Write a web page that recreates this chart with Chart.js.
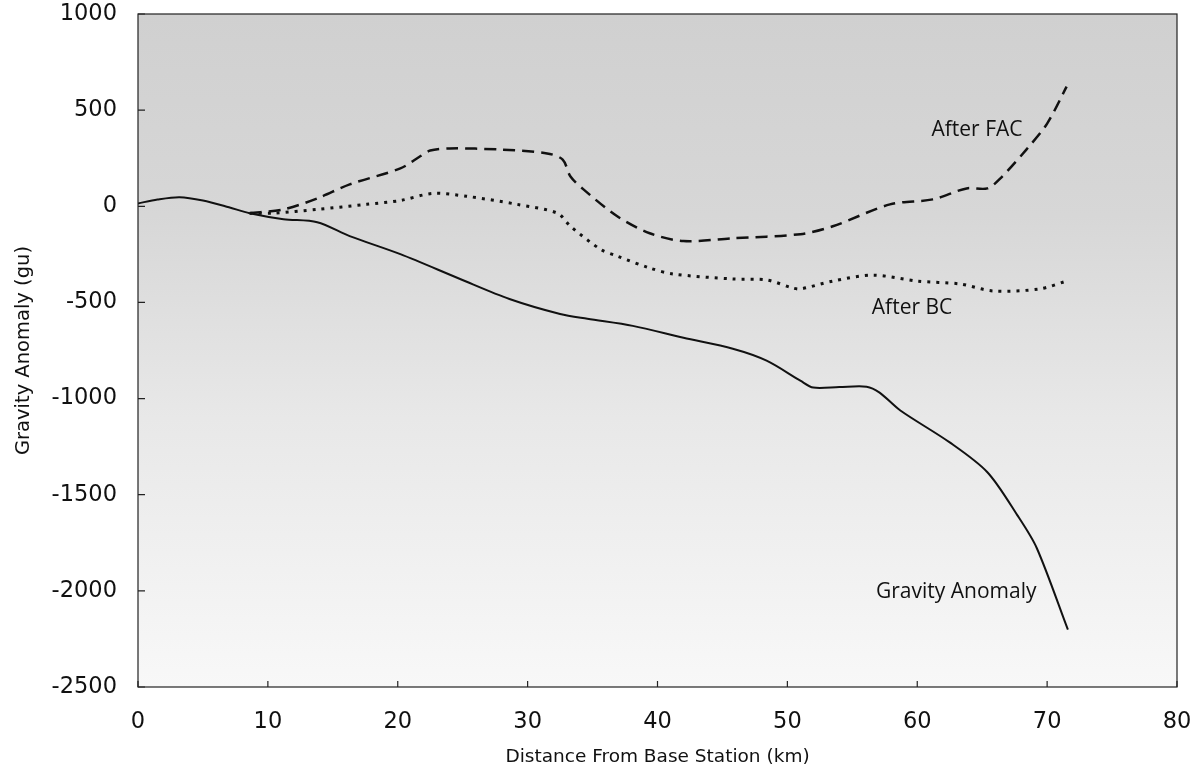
<!DOCTYPE html>
<html>
<head>
<meta charset="utf-8">
<script src="https://cdn.jsdelivr.net/npm/chart.js@4/dist/chart.umd.min.js"></script>
<style>
  html, body { margin: 0; padding: 0; background: #fff; }
  #wrap { width: 1199px; height: 772px; }
</style>
</head>
<body>
<div id="wrap"><canvas id="gravityChart"></canvas></div>
<script>
// Profile data (km, gu)
const gravityX = [0, 1.5, 3.2, 5, 7, 8.6, 11.2, 13.8, 16.3, 20.2, 24.8, 28.6, 32.5, 34.6, 38.1, 42.0, 45.8, 48.4, 51.0, 52.0, 54, 56.1, 57.1, 58.7, 62.5, 65.4, 67.7, 69.2, 71.6];
const gravityY = [15, 35, 47, 30, -5, -36, -67, -83, -155, -249, -378, -482, -560, -585, -622, -684, -741, -803, -907, -943, -940, -938, -969, -1062, -1228, -1383, -1606, -1777, -2202];

const facX = [8.6, 11.2, 13.8, 16.3, 20.2, 21.7, 22.5, 24.0, 27.9, 31.5, 32.7, 33.3, 34.3, 36.9, 39.4, 42.0, 45.8, 51.0, 53.5, 57.9, 61.2, 63.8, 65.4, 66.4, 68.4, 70.0, 71.5];
const facY = [-36, -16, 41, 114, 197, 259, 290, 301, 295, 275, 243, 155, 88, -52, -140, -181, -166, -145, -104, 10, 36, 93, 93, 145, 295, 430, 622];

const bcX = [8.6, 10.4, 13.8, 17.6, 20.2, 22.7, 25.3, 29.2, 32.3, 33.3, 35.6, 36.9, 39.4, 41.2, 45.8, 48.4, 50.4, 51.0, 53.5, 56.6, 60.0, 63.3, 65.8, 69.4, 71.5];
const bcY = [-36, -36, -16, 10, 30, 67, 52, 10, -36, -104, -223, -259, -321, -352, -378, -383, -425, -430, -389, -358, -389, -404, -440, -430, -389];

const xTicks = [0, 10, 20, 30, 40, 50, 60, 70, 80];
const yTicks = [-2500, -2000, -1500, -1000, -500, 0, 500, 1000];

const curveLabels = ['After FAC', 'After BC', 'Gravity Anomaly'];
const labelX = [64.6, 59.6, 63.0];
const labelY = [399, -528, -2005];

const toPoints = (xs, ys) => xs.map((x, i) => ({ x: x, y: ys[i] }));

// gray scan-style backdrop, frame and inward tick marks
const plotFrame = {
    id: 'plotFrame',
    beforeDatasetsDraw(chart) {
        const { ctx, chartArea: a } = chart;
        const g = ctx.createLinearGradient(0, a.top, 0, a.bottom);
        g.addColorStop(0, '#d0d0d0');
        g.addColorStop(0.3, '#d7d7d7');
        g.addColorStop(0.6, '#e8e8e8');
        g.addColorStop(1, '#f8f8f8');
        ctx.save();
        ctx.fillStyle = g;
        ctx.fillRect(a.left, a.top, a.right - a.left, a.bottom - a.top);
        ctx.restore();
    },
    afterDatasetsDraw(chart) {
        const { ctx, chartArea: a, scales } = chart;
        ctx.save();
        ctx.strokeStyle = '#222';
        ctx.lineWidth = 1.2;
        ctx.strokeRect(a.left, a.top, a.right - a.left, a.bottom - a.top);
        ctx.beginPath();
        yTicks.forEach(v => {
            const py = scales.y.getPixelForValue(v);
            ctx.moveTo(a.left, py);
            ctx.lineTo(a.left + 7, py);
        });
        xTicks.forEach(v => {
            const px = scales.x.getPixelForValue(v);
            ctx.moveTo(px, a.bottom);
            ctx.lineTo(px, a.bottom - 6);
        });
        ctx.stroke();

        ctx.fillStyle = '#111';
        ctx.font = '21px "Open Sans"';
        ctx.textAlign = 'center';
        ctx.textBaseline = 'middle';
        curveLabels.forEach((t, i) => {
            ctx.fillText(t, scales.x.getPixelForValue(labelX[i]), scales.y.getPixelForValue(labelY[i]));
        });
        ctx.restore();
    }
};

new Chart(document.getElementById('gravityChart'), {
    type: 'scatter',
    data: {
        datasets: [
            {
                label: 'Gravity Anomaly',
                data: toPoints(gravityX, gravityY),
                showLine: true,
                borderColor: '#111',
                borderWidth: 2,
                pointRadius: 0,
                tension: 0.3
            },
            {
                label: 'After FAC',
                data: toPoints(facX, facY),
                showLine: true,
                borderColor: '#111',
                borderWidth: 2.5,
                borderDash: [12, 7],
                pointRadius: 0,
                tension: 0.3
            },
            {
                label: 'After BC',
                data: toPoints(bcX, bcY),
                showLine: true,
                borderColor: '#111',
                borderWidth: 3,
                borderDash: [3, 6],
                pointRadius: 0,
                tension: 0.3
            }
        ]
    },
    options: {
        responsive: true,
        maintainAspectRatio: false,
        animation: false,
        layout: { padding: { top: 14, right: 22, left: 0, bottom: 0 } },
        plugins: {
            legend: { display: false },
            tooltip: { enabled: false }
        },
        scales: {
            x: {
                type: 'linear',
                min: 0,
                max: 80,
                afterBuildTicks: (s) => { s.ticks = xTicks.map(v => ({ value: v })); },
                afterFit: (s) => { s.height = 85; s.paddingLeft = 0; s.paddingRight = 0; },
                grid: { display: false, drawTicks: false },
                border: { display: false },
                ticks: {
                    color: '#111',
                    padding: 22,
                    maxRotation: 0,
                    callback: (v) => String(v),
                    font: { family: 'DejaVu Sans', size: 22.5 }
                },
                title: {
                    display: true,
                    text: 'Distance From Base Station (km)',
                    color: '#111',
                    font: { family: 'DejaVu Sans', size: 18.5 },
                    padding: { top: 0, bottom: 4 }
                }
            },
            y: {
                type: 'linear',
                min: -2500,
                max: 1000,
                afterBuildTicks: (s) => { s.ticks = yTicks.map(v => ({ value: v })); },
                afterFit: (s) => { s.width = 138; s.paddingTop = 0; s.paddingBottom = 0; },
                grid: { display: false, drawTicks: false },
                border: { display: false },
                ticks: {
                    color: '#111',
                    padding: 21,
                    callback: (v) => String(v),
                    font: { family: 'DejaVu Sans', size: 22.5 }
                },
                title: {
                    display: true,
                    text: 'Gravity Anomaly (gu)',
                    color: '#111',
                    font: { family: 'DejaVu Sans', size: 19.5 },
                    padding: { top: 12, bottom: 0 }
                }
            }
        }
    },
    plugins: [plotFrame]
});
</script>
</body>
</html>
